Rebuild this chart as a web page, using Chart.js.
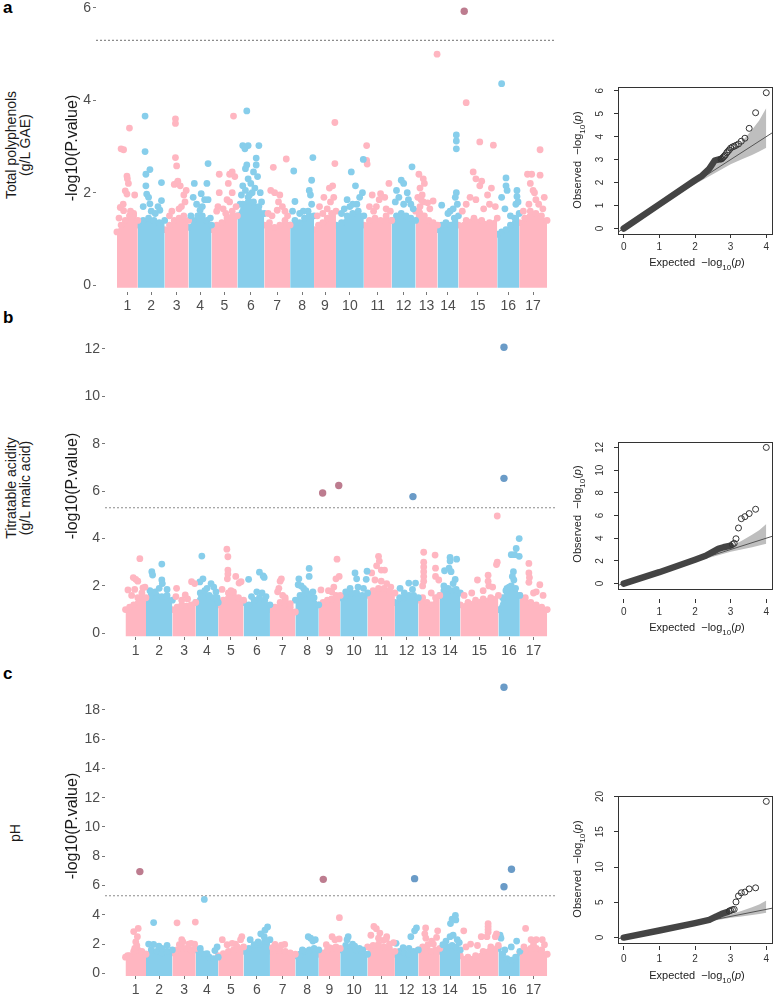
<!DOCTYPE html>
<html>
<head>
<meta charset="utf-8">
<script src="https://cdn.jsdelivr.net/npm/chart.js@4.4.1/dist/chart.umd.min.js"></script>
<style>
	body { margin: 0; background: #fff; width: 777px; height: 995px; overflow: hidden; position: relative;
		font-family: "Liberation Sans", Arial, sans-serif; }
	canvas { position: absolute; }
	.lbl { position: absolute; white-space: nowrap; }
	.letter { font-weight: bold; font-size: 17px; line-height: 17px; color: #000; }
	.rot { transform: translate(-50%, -50%) rotate(-90deg); text-align: center; }
	.trait { font-size: 14px; line-height: 14px; color: #1a1a1a; }
	.qqt { font-size: 11px; line-height: 12px; color: #222; }
	.qqt sub { font-size: 8px; }
	.ctr { transform: translate(-50%, -50%); }
</style>
</head>
<body>

<div class="lbl letter" style="left:3px;top:-1px">a</div>
<div class="lbl letter" style="left:3px;top:309px">b</div>
<div class="lbl letter" style="left:3px;top:665px">c</div>

<div class="lbl rot trait" style="left:18px;top:145px">Total polyphenols<br>(g/L GAE)</div>
<div class="lbl rot trait" style="left:18px;top:488px">Titratable acidity<br>(g/L malic acid)</div>
<div class="lbl rot trait" style="left:15px;top:833px">pH</div>

<canvas id="manA" width="560" height="315" style="left:0;top:0"></canvas>
<canvas id="manB" width="560" height="340" style="left:0;top:325px"></canvas>
<canvas id="manC" width="560" height="330" style="left:0;top:665px"></canvas>

<canvas id="qqA" width="217" height="210" style="left:560px;top:70px"></canvas>
<canvas id="qqB" width="217" height="210" style="left:560px;top:425px"></canvas>
<canvas id="qqC" width="217" height="210" style="left:560px;top:779px"></canvas>

<div class="lbl rot qqt" style="left:580px;top:160px">Observed&nbsp;&nbsp;&minus;log<sub>10</sub>(<i>p</i>)</div>
<div class="lbl ctr qqt" style="left:697px;top:265px">Expected&nbsp;&nbsp;&minus;log<sub>10</sub>(<i>p</i>)</div>
<div class="lbl rot qqt" style="left:580px;top:514px">Observed&nbsp;&nbsp;&minus;log<sub>10</sub>(<i>p</i>)</div>
<div class="lbl ctr qqt" style="left:697px;top:630px">Expected&nbsp;&nbsp;&minus;log<sub>10</sub>(<i>p</i>)</div>
<div class="lbl rot qqt" style="left:580px;top:869px">Observed&nbsp;&nbsp;&minus;log<sub>10</sub>(<i>p</i>)</div>
<div class="lbl ctr qqt" style="left:697px;top:978px">Expected&nbsp;&nbsp;&minus;log<sub>10</sub>(<i>p</i>)</div>

<script>
// chromosomes and their length (Mb)
var chromNames = ['1', '2', '3', '4', '5', '6', '7', '8', '9', '10', '11', '12', '13', '14', '15', '16', '17'];
var chromLen = [21, 27, 24, 23, 26, 27, 26, 24, 22, 28, 28, 24, 22, 21, 39, 22, 28];
var threshold = 5.3;

// ---- a: total polyphenols ----
// height of the dense SNP cloud along each chromosome
var polyBody = [
	[1.15, 1.3, 1.4, 1.5, 1.5, 1.4], [1.3, 1.4, 1.45, 1.4, 1.35, 1.4], [1.2, 1.3, 1.4, 1.45, 1.5, 1.4],
	[1.25, 1.4, 1.5, 1.5, 1.4, 1.3], [1.2, 1.3, 1.35, 1.45, 1.6, 1.5], [1.5, 1.75, 1.9, 1.8, 1.7, 1.55],
	[1.3, 1.35, 1.25, 1.3, 1.4, 1.3], [1.3, 1.4, 1.35, 1.45, 1.5, 1.5], [1.2, 1.3, 1.35, 1.45, 1.55, 1.6],
	[1.3, 1.35, 1.5, 1.55, 1.6, 1.5], [1.3, 1.4, 1.45, 1.4, 1.5, 1.4], [1.4, 1.5, 1.55, 1.5, 1.45, 1.4],
	[1.6, 1.7, 1.5, 1.4, 1.35, 1.3], [1.2, 1.3, 1.35, 1.3, 1.45, 1.5], [1.3, 1.4, 1.45, 1.4, 1.35, 1.45],
	[1.1, 1.15, 1.2, 1.3, 1.45, 1.55], [1.35, 1.45, 1.6, 1.55, 1.5, 1.4]
];
// single SNPs above the cloud: [fraction along chromosome, -log10 p]
var polyPeaks = [
	[[.6, 3.4], [.2, 2.95], [.32, 2.93], [.48, 2.36], [.5, 2.3], [.55, 2.2], [.4, 2.04], [.48, 1.97], [.85, 1.95], [.16, 1.68], [.32, 1.61], [.8, 1.55], [.3, 1.75], [.65, 1.6], [.1, 1.45]],
	[[.27, 3.66], [.27, 2.89], [.3, 2.4], [.45, 2.5], [.3, 2.15], [.33, 1.97], [.45, 1.76], [.5, 1.6], [.88, 2.22], [.88, 1.83], [.82, 1.62], [.4, 1.9], [.2, 1.7], [.65, 1.55], [.75, 1.7]],
	[[.45, 3.6], [.45, 3.5], [.45, 2.76], [.5, 2.58], [.5, 2.2], [.4, 2.18], [.9, 2.05], [.55, 2.25], [.65, 2.15], [.8, 1.95], [.85, 1.8], [.7, 1.7], [.6, 1.65], [.2, 1.5], [.3, 1.6]],
	[[.85, 2.63], [.25, 2.2], [.8, 2.2], [.55, 1.98], [.7, 1.85], [.85, 1.85], [.35, 1.75], [.5, 1.62], [.95, 1.45], [.2, 1.9], [.1, 1.5], [.6, 1.7]],
	[[.85, 3.66], [.8, 2.45], [.9, 2.35], [.65, 2.2], [.3, 2.4], [.7, 2.4], [.3, 2.0], [.25, 1.7], [.6, 1.85], [.8, 2.0], [.7, 1.8], [.45, 1.65], [.2, 1.6], [.95, 1.7], [.55, 1.55]],
	[[.35, 3.77], [.2, 3.02], [.4, 3.02], [.8, 3.02], [.28, 2.95], [.35, 2.6], [.3, 2.52], [.7, 2.75], [.7, 2.6], [.6, 2.45], [.75, 2.35], [.4, 2.3], [.2, 2.15], [.5, 2.2], [.65, 2.1], [.85, 2.0], [.15, 1.95], [.55, 2.0], [.9, 1.8], [.3, 2.05], [.45, 1.95], [.1, 1.75]],
	[[.85, 2.73], [.35, 2.55], [.25, 2.05], [.4, 2.0], [.6, 1.95], [.55, 1.8], [.7, 1.7], [.5, 1.62], [.15, 1.55], [.8, 1.6], [.3, 1.5], [.9, 1.5]],
	[[.15, 2.47], [.2, 1.81], [.95, 2.76], [.9, 2.27], [.75, 1.6], [.85, 1.95], [.55, 1.6], [.8, 2.05], [.9, 1.75], [.4, 1.55], [.1, 1.6]],
	[[.95, 3.52], [.95, 2.63], [.7, 2.1], [.85, 2.15], [.45, 1.9], [.25, 1.7], [.9, 1.9], [.75, 1.8], [.6, 1.65], [.4, 1.55], [.15, 1.5]],
	[[.98, 2.72], [.55, 2.45], [.7, 2.15], [.95, 2.0], [.4, 1.85], [.3, 1.65], [.85, 1.9], [.75, 1.75], [.6, 1.75], [.2, 1.55], [.5, 1.7]],
	[[.1, 3.02], [.1, 2.7], [.12, 2.62], [.9, 2.2], [.3, 1.95], [.55, 1.85], [.6, 1.98], [.75, 1.9], [.45, 1.7], [.8, 1.65], [.2, 1.7], [.35, 1.6], [.95, 1.6]],
	[[.85, 2.56], [.4, 2.27], [.5, 2.2], [.2, 2.05], [.65, 2.0], [.3, 1.9], [.5, 1.75], [.8, 1.75], [.7, 1.85], [.15, 1.8], [.9, 1.65]],
	[[.98, 5.0], [.15, 2.4], [.35, 2.3], [.4, 2.2], [.2, 2.1], [.3, 1.95], [.35, 1.8], [.55, 1.78], [.8, 1.82], [.1, 1.9], [.65, 1.65], [.25, 1.85]],
	[[.9, 3.25], [.9, 3.12], [.9, 2.95], [.9, 2.0], [.85, 1.9], [.2, 1.73], [.5, 1.55], [.95, 1.75], [.6, 1.6], [.75, 1.65]],
	[[.2, 3.95], [.55, 3.1], [.9, 3.03], [.38, 2.45], [.45, 2.3], [.6, 2.25], [.55, 2.15], [.85, 2.1], [.3, 1.9], [.45, 1.85], [.75, 1.95], [.8, 1.75], [.2, 1.75], [.65, 1.65], [.1, 1.6], [.95, 1.7]],
	[[.2, 4.36], [.4, 2.32], [.4, 2.15], [.45, 2.05], [.9, 2.05], [.9, 1.92], [.2, 1.9], [.35, 1.65], [.85, 1.75], [.95, 1.8], [.6, 1.5]],
	[[.75, 2.93], [.3, 2.4], [.45, 2.4], [.75, 2.38], [.4, 2.2], [.55, 2.0], [.6, 1.85], [.7, 1.75], [.35, 1.75], [.85, 1.65], [.9, 1.9], [.5, 2.05], [.15, 1.6]]
];
// significant SNPs: [chromosome, fraction, -log10 p]
var polyHits = [[15, .15, 5.93]];
var polyYTicks = [0, 2, 4, 6];

// ---- b: titratable acidity ----
var acidBody = [
	[1.0, 1.1, 1.2, 1.5, 1.7, 1.5], [1.4, 1.6, 1.6, 1.55, 1.6, 1.4], [1.0, 1.1, 1.2, 1.15, 1.2, 1.3],
	[1.3, 1.7, 1.8, 1.6, 1.5, 1.3], [1.2, 1.4, 1.7, 1.6, 1.5, 1.4], [1.3, 1.2, 1.4, 1.5, 1.4, 1.2],
	[1.0, 1.1, 1.3, 1.4, 1.1, 0.9], [1.4, 1.6, 1.7, 1.65, 1.5, 1.2], [1.2, 1.3, 1.4, 1.45, 1.6, 1.6],
	[1.5, 1.6, 1.7, 1.7, 1.6, 1.7], [1.6, 1.8, 1.9, 1.9, 1.8, 1.7], [1.3, 1.5, 1.5, 1.6, 1.6, 1.5],
	[1.4, 1.5, 1.3, 1.2, 1.5, 1.6], [1.6, 1.8, 1.9, 1.8, 1.85, 1.7], [1.2, 1.3, 1.4, 1.45, 1.5, 1.6],
	[1.0, 1.5, 1.9, 2.0, 1.9, 1.6], [1.6, 1.5, 1.3, 1.2, 1.1, 1.0]
];
var acidPeaks = [
	[[.7, 3.15], [.38, 2.35], [.5, 2.28], [.6, 2.2], [.12, 1.83], [.85, 1.92], [.95, 1.95], [.3, 1.6], [.45, 1.85]],
	[[.22, 2.6], [.25, 2.46], [.6, 2.92], [.6, 2.25], [.62, 2.1], [.5, 1.9], [.8, 1.85], [.35, 1.75], [.15, 1.8]],
	[[.18, 1.9], [.15, 1.55], [.55, 1.62], [.65, 1.45], [.82, 2.18], [.95, 2.1], [.4, 1.4]],
	[[.27, 3.26], [.32, 2.3], [.18, 2.17], [.68, 2.1], [.9, 1.75], [.5, 1.9], [.8, 1.95], [.95, 1.5]],
	[[.34, 3.55], [.38, 3.23], [.38, 2.67], [.38, 2.5], [.36, 2.3], [.69, 2.4], [.82, 2.12], [.9, 2.18], [.15, 1.85], [.5, 1.8], [.6, 1.75]],
	[[.19, 2.28], [.6, 2.58], [.74, 2.42], [.78, 2.36], [.5, 1.75], [.7, 1.7], [.85, 1.55], [.3, 1.55]],
	[[.45, 2.3], [.4, 2.2], [.3, 1.75], [.35, 1.9], [.5, 1.6], [.8, 1.25], [.6, 1.5]],
	[[.59, 2.74], [.59, 2.4], [.15, 2.3], [.12, 2.05], [.35, 1.9], [.45, 1.8], [.75, 1.75], [.25, 2.0]],
	[[.85, 3.13], [.95, 2.4], [.8, 2.3], [.1, 1.83], [.45, 1.8], [.6, 1.75], [.7, 1.95]],
	[[.54, 2.55], [.6, 2.3], [.98, 2.62], [.95, 2.28], [.36, 1.9], [.65, 1.95], [.85, 1.9], [.2, 1.75]],
	[[.4, 3.25], [.43, 3.05], [.33, 2.85], [.5, 2.67], [.62, 2.67], [.15, 2.55], [.27, 2.25], [.5, 2.2], [.7, 2.1], [.85, 1.95]],
	[[.22, 1.9], [.59, 2.12], [.88, 2.12], [.75, 1.85], [.4, 1.7]],
	[[.25, 3.42], [.25, 3.0], [.25, 2.8], [.25, 2.6], [.25, 2.4], [.25, 2.2], [.78, 3.3], [.8, 2.75], [.8, 2.4], [.95, 2.25], [.6, 1.7], [.2, 2.0]],
	[[.23, 2.64], [.5, 3.2], [.5, 3.05], [.82, 3.13], [.45, 2.75], [.55, 2.6], [.75, 2.27], [.2, 2.0], [.65, 2.1]],
	[[.97, 4.95], [.97, 3.0], [.95, 2.9], [.45, 2.25], [.73, 2.45], [.73, 2.2], [.75, 2.0], [.85, 1.95], [.3, 1.7], [.6, 1.8], [.1, 1.6]],
	[[.97, 4.0], [.83, 3.58], [.6, 3.32], [.75, 3.32], [.97, 3.25], [.7, 2.6], [.65, 2.4], [.72, 2.25], [.5, 1.95], [.35, 1.8]],
	[[.33, 2.95], [.33, 2.55], [.35, 2.35], [.33, 2.15], [.73, 2.05], [.6, 1.75], [.85, 1.6], [.5, 1.7]]
];
var acidHits = [[9, .18, 5.92], [9, .93, 6.24], [12, .77, 5.77], [16, .26, 12.07], [16, .26, 6.54]];
var acidYTicks = [0, 2, 4, 6, 8, 10, 12];

// ---- c: pH ----
var phBody = [
	[1.1, 1.2, 1.5, 1.6, 1.5, 1.3], [1.3, 1.6, 1.5, 1.4, 1.5, 1.6], [1.4, 1.6, 1.8, 1.7, 1.6, 1.7],
	[1.6, 1.5, 1.3, 1.1, 1.0, 1.1], [1.2, 1.35, 1.5, 1.6, 1.7, 1.8], [1.5, 1.7, 1.9, 2.0, 2.2, 2.3],
	[1.5, 1.6, 1.55, 1.5, 1.4, 1.3], [1.2, 1.3, 1.5, 1.6, 1.7, 1.6], [1.3, 1.4, 1.6, 1.7, 1.8, 1.7],
	[1.6, 1.9, 1.8, 1.6, 1.5, 1.3], [1.8, 1.9, 2.0, 1.8, 1.7, 1.5], [1.3, 1.5, 1.4, 1.3, 1.5, 1.6],
	[1.6, 1.8, 1.7, 1.5, 1.6, 1.7], [1.5, 1.7, 1.8, 1.9, 1.8, 1.6], [1.2, 1.1, 1.2, 1.5, 1.8, 1.9],
	[1.7, 1.3, 1.0, 0.9, 1.1, 1.5], [1.4, 1.6, 1.7, 1.7, 1.6, 1.3]
];
var phPeaks = [
	[[.4, 2.85], [.62, 3.07], [.58, 2.5], [.5, 2.15], [.55, 1.9], [.45, 1.7], [.1, 1.2]],
	[[.29, 3.47], [.29, 1.97], [.49, 1.85], [.8, 1.9], [.1, 2.0], [.6, 1.7]],
	[[.2, 3.45], [.98, 3.5], [.4, 2.3], [.45, 2.15], [.7, 2.0], [.8, 2.05], [.95, 2.0], [.3, 1.95]],
	[[.38, 5.05], [.2, 1.7], [.95, 1.8], [.85, 1.55], [.5, 1.35]],
	[[.16, 2.3], [.35, 1.95], [.55, 2.05], [.68, 2.0], [.93, 2.5], [.88, 2.3], [.75, 1.8]],
	[[.91, 3.17], [.81, 2.95], [.65, 2.7], [.78, 2.5], [.25, 2.3], [.55, 2.15], [.9, 2.2], [.4, 1.95]],
	[[.2, 1.97], [.45, 1.93], [.58, 1.97], [.1, 1.75], [.35, 1.7]],
	[[.55, 2.5], [.65, 2.4], [.85, 2.3], [.75, 2.2], [.3, 1.6]],
	[[.96, 3.8], [.62, 2.5], [.75, 2.3], [.95, 2.35], [.35, 1.95], [.5, 1.75]],
	[[.29, 2.5], [.25, 2.3], [.53, 1.85], [.7, 1.7], [.82, 1.6], [.45, 2.0]],
	[[.23, 3.2], [.32, 3.05], [.45, 2.75], [.7, 2.5], [.12, 2.6], [.4, 2.4], [.58, 2.25], [.68, 2.35], [.95, 2.1], [.8, 2.0]],
	[[.84, 2.9], [.92, 3.1], [.68, 2.5], [.05, 2.05], [.35, 1.75], [.6, 1.7]],
	[[.34, 3.1], [.3, 2.7], [.35, 2.4], [.9, 2.9], [.85, 2.45], [.62, 2.2], [.45, 1.95], [.7, 2.0]],
	[[.52, 3.4], [.6, 3.7], [.76, 3.95], [.78, 3.65], [.5, 2.5], [.65, 2.6], [.3, 2.2], [.85, 2.3], [.15, 1.95], [.95, 2.1]],
	[[.09, 2.9], [.73, 3.4], [.73, 3.2], [.73, 3.0], [.73, 2.8], [.7, 2.5], [.55, 2.5], [.95, 2.7], [.92, 2.5], [.27, 2.0], [.15, 1.8], [.45, 1.9]],
	[[.08, 2.6], [.12, 2.4], [.85, 2.2], [.6, 1.8], [.3, 1.6]],
	[[.21, 3.07], [.41, 2.3], [.6, 2.3], [.15, 1.8], [.82, 2.3], [.9, 1.95], [.5, 2.0]]
];
var phHits = [[1, .7, 6.95], [9, .21, 6.42], [12, .84, 6.47], [16, .26, 19.55], [16, .26, 5.92], [16, .61, 7.11]];
var phYTicks = [0, 2, 4, 6, 8, 10, 12, 14, 16, 18];

// ---- QQ plots: [expected, observed] ----
var qqXTicks = [0, 1, 2, 3, 4];
var polyQQBulk = [[0, 0], [1, 1.05], [2, 2.1], [2.2, 2.3], [2.4, 2.6], [2.55, 2.95], [2.7, 3.02]];
var polyQQTop = [[2.73, 3.02], [2.76, 3.05], [2.79, 3.1], [2.82, 3.15], [2.85, 3.2], [2.89, 3.3], [2.92, 3.35], [2.96, 3.42],
	[3.0, 3.5], [3.05, 3.55], [3.1, 3.58], [3.15, 3.62], [3.22, 3.68], [3.3, 3.8], [3.4, 3.93], [3.52, 4.36], [3.7, 5.04], [4.0, 5.91]];
var acidQQBulk = [[0, 0], [1, 1.0], [2, 2.1], [2.3, 2.45], [2.5, 2.8], [2.65, 3.05], [2.8, 3.2], [3.0, 3.35]];
var acidQQTop = [[3.05, 3.45], [3.1, 3.55], [3.15, 3.95], [3.22, 4.9], [3.3, 5.72], [3.4, 5.9], [3.52, 6.17], [3.7, 6.55], [4.0, 12.0]];
var phQQBulk = [[0, 0], [1, 1.0], [2, 2.05], [2.4, 2.5], [2.6, 3.0], [2.75, 3.35], [2.9, 3.6]];
var phQQTop = [[2.96, 3.75], [3.0, 3.85], [3.05, 3.95], [3.1, 4.0], [3.15, 5.05], [3.22, 5.9], [3.3, 6.35], [3.4, 6.45], [3.52, 6.9], [3.7, 7.05], [4.0, 19.3]];
// 95% band
var qqBandX = [1.8, 2.2, 2.6, 3.0, 3.3, 3.6, 3.8, 4.0];
var qqBandHi = [1.85, 2.3, 2.8, 3.3, 3.75, 4.3, 4.7, 5.25];
var qqBandLo = [1.75, 2.1, 2.45, 2.8, 3.0, 3.2, 3.35, 3.52];

var font = "'Liberation Sans', Arial, sans-serif";
var pink = '#ffb6c1', blue = '#87ceeb', pinkHit = '#bd7c8f', blueHit = '#6a9bc7';
var xMin = -21, xMax = 440;

var chromStart = [], chromMid = [], acc = 0;
for (var i = 0; i < chromLen.length; i++) {
	chromStart.push(acc);
	chromMid.push(acc + chromLen[i] / 2);
	acc += chromLen[i];
}

function pos(c, f) {
	return chromStart[c] + f * chromLen[c];
}

// keep label overhang from shrinking the plot area
function noOverhang(s) {
	s.paddingTop = 0;
	s.paddingBottom = 0;
	s.paddingLeft = 0;
	s.paddingRight = 0;
}

function manhattan(id, body, peaks, hits, yMin, yMax, yTicks, axisLeft, padTop, axisH, base) {
	var sets = [];

	sets.push({
		type: 'scatter',
		data: hits.map(function (h) { return { x: pos(h[0] - 1, h[1]), y: h[2] }; }),
		pointBackgroundColor: hits.map(function (h) { return h[0] % 2 ? pinkHit : blueHit; }),
		pointBorderWidth: 0, pointRadius: 3.7
	});
	sets.push({
		type: 'line',
		data: [{ x: xMin, y: threshold }, { x: xMax, y: threshold }],
		borderColor: '#8c8c8c', borderWidth: 1.2, borderDash: [2, 2], pointRadius: 0, fill: false
	});
	peaks.forEach(function (list, c) {
		var col = c % 2 ? blue : pink;
		sets.push({
			type: 'scatter',
			data: list.map(function (p) { return { x: pos(c, p[0]), y: p[1] }; }),
			pointBackgroundColor: col, pointBorderWidth: 0, pointRadius: 3.4
		});
	});
	body.forEach(function (env, c) {
		var col = c % 2 ? blue : pink;
		sets.push({
			type: 'line',
			data: env.map(function (v, j) { return { x: pos(c, j / (env.length - 1)), y: v }; }),
			borderColor: col, backgroundColor: col, borderWidth: 1, tension: 0,
			pointRadius: 3.4, pointBackgroundColor: col, pointBorderWidth: 0,
			fill: { value: base }
		});
	});

	new Chart(document.getElementById(id), {
		type: 'scatter',
		data: { datasets: sets },
		options: {
			responsive: false, animation: false, events: [],
			layout: { padding: { top: padTop, right: 5, left: 0, bottom: 0 } },
			plugins: { legend: { display: false }, tooltip: { enabled: false } },
			scales: {
				x: {
					type: 'linear', min: xMin, max: xMax,
					afterBuildTicks: function (s) { s.ticks = chromMid.map(function (v) { return { value: v }; }); },
					afterFit: function (s) { s.height = axisH; noOverhang(s); },
					grid: { drawOnChartArea: false, drawTicks: true, tickLength: 3, color: '#777' },
					border: { display: false },
					ticks: {
						autoSkip: false, maxRotation: 0, padding: 3, color: '#4d4d4d',
						font: { family: font, size: 14 },
						callback: function (v, i) { return chromNames[i]; }
					}
				},
				y: {
					min: yMin, max: yMax,
					afterBuildTicks: function (s) { s.ticks = yTicks.map(function (v) { return { value: v }; }); },
					afterFit: function (s) { s.width = axisLeft; noOverhang(s); },
					grid: { drawOnChartArea: false, drawTicks: true, tickLength: 3, color: '#777' },
					border: { display: false },
					ticks: {
						padding: 2, color: '#4d4d4d', font: { family: font, size: 14 },
						callback: function (v) { return String(v); }
					},
					title: {
						display: true, text: '-log10(P.value)', color: '#1a1a1a',
						font: { family: font, size: 16 }, padding: { top: 63, bottom: 0 }
					}
				}
			}
		}
	});
}

var boxPlugin = {
	id: 'box',
	afterDraw: function (chart) {
		var a = chart.chartArea, ctx = chart.ctx;
		ctx.save();
		ctx.strokeStyle = '#333';
		ctx.lineWidth = 1;
		ctx.strokeRect(Math.round(a.left) + 0.5, Math.round(a.top) + 0.5, Math.round(a.right - a.left), Math.round(a.bottom - a.top));
		ctx.restore();
	}
};

function xy(list) {
	return list.map(function (p) { return { x: p[0], y: p[1] }; });
}

function qq(id, bulk, top, yMin, yMax, yTicks, tickPad, gap) {
	var qMin = -0.16, qMax = 4.16;
	new Chart(document.getElementById(id), {
		type: 'scatter',
		data: {
			datasets: [{
				type: 'scatter', data: xy(top),
				pointRadius: 3, pointBorderWidth: 1, pointBorderColor: '#333', pointBackgroundColor: 'rgba(0,0,0,0)'
			}, {
				type: 'line', data: xy(bulk),
				borderColor: '#444', borderWidth: 6.5, borderCapStyle: 'round', borderJoinStyle: 'round',
				pointRadius: 0, fill: false, tension: 0
			}, {
				type: 'line', data: [{ x: qMin, y: qMin }, { x: qMax, y: qMax }],
				borderColor: '#555', borderWidth: 1, pointRadius: 0, fill: false
			}, {
				type: 'line', data: qqBandX.map(function (v, i) { return { x: v, y: qqBandHi[i] }; }),
				borderColor: 'rgba(0,0,0,0)', borderWidth: 1, pointRadius: 0,
				backgroundColor: '#bebebe', fill: '+1'
			}, {
				type: 'line', data: qqBandX.map(function (v, i) { return { x: v, y: qqBandLo[i] }; }),
				borderColor: 'rgba(0,0,0,0)', borderWidth: 1, pointRadius: 0, fill: false
			}]
		},
		options: {
			responsive: false, animation: false, events: [],
			layout: { padding: { top: 17, right: 3, left: 0, bottom: 0 } },
			plugins: { legend: { display: false }, tooltip: { enabled: false } },
			scales: {
				x: {
					type: 'linear', min: qMin, max: qMax,
					afterBuildTicks: function (s) { s.ticks = qqXTicks.map(function (v) { return { value: v }; }); },
					afterFit: function (s) { s.height = 46; noOverhang(s); },
					grid: {
						drawOnChartArea: false, drawTicks: true, tickLength: 4 + gap, color: '#333',
						tickBorderDash: gap ? [0, gap, 4, 100] : []
					},
					border: { display: false },
					ticks: { maxRotation: 0, padding: 3, color: '#333', font: { family: font, size: 10 } }
				},
				y: {
					min: yMin, max: yMax,
					afterBuildTicks: function (s) { s.ticks = yTicks.map(function (v) { return { value: v }; }); },
					afterFit: function (s) { s.width = 58; noOverhang(s); },
					grid: { drawOnChartArea: false, drawTicks: true, tickLength: 4, color: '#333' },
					border: { display: false },
					ticks: {
						minRotation: 90, maxRotation: 90, crossAlign: 'center', padding: tickPad,
						color: '#333', font: { family: font, size: 10 }
					}
				}
			}
		},
		plugins: [boxPlugin]
	});
}

manhattan('manA', polyBody, polyPeaks, polyHits, -0.15, 6.086, polyYTicks, 96, 2, 23, -0.06);
manhattan('manB', acidBody, acidPeaks, acidHits, -0.156, 12.59, acidYTicks, 105, 10, 28, -0.12);
manhattan('manC', phBody, phPeaks, phHits, -0.185, 20.32, phYTicks, 105, 11, 19, -0.18);

qq('qqA', polyQQBulk, polyQQTop, -0.24, 6.16, [0, 1, 2, 3, 4, 5, 6], 11, 0);
qq('qqB', acidQQBulk, acidQQTop, -0.48, 12.48, [0, 2, 4, 6, 8, 10, 12], 8.5, 10);
qq('qqC', phQQBulk, phQQTop, -0.77, 20.07, [0, 5, 10, 15, 20], 8.5, 3);
</script>
</body>
</html>
